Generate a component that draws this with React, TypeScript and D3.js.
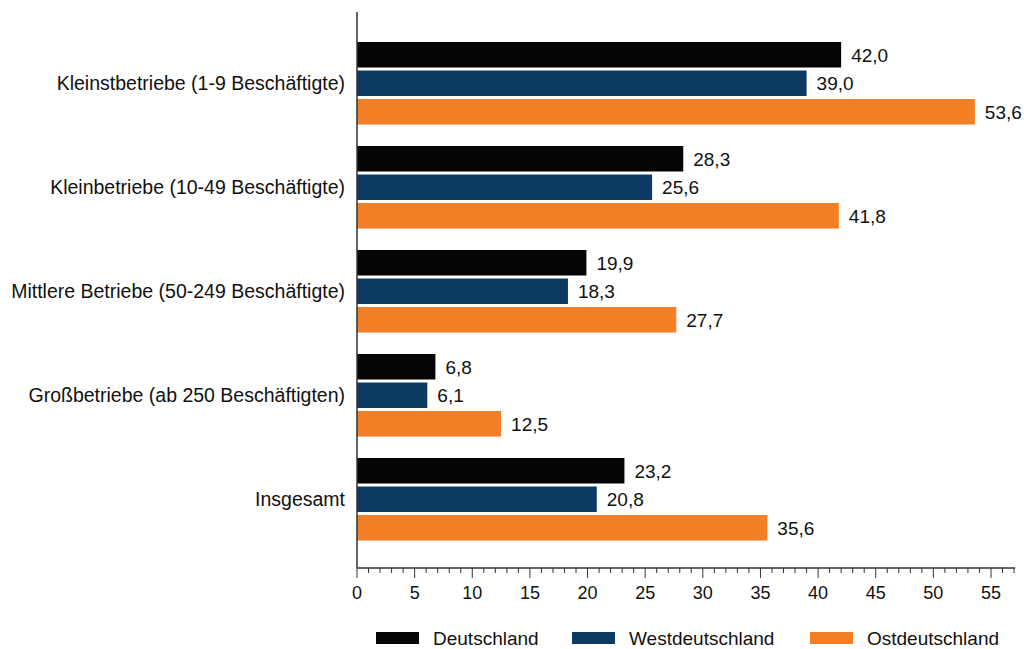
import React from "react";
import * as d3 from "d3";

const categories = [
  "Kleinstbetriebe (1-9 Beschäftigte)",
  "Kleinbetriebe (10-49 Beschäftigte)",
  "Mittlere Betriebe (50-249 Beschäftigte)",
  "Großbetriebe (ab 250 Beschäftigten)",
  "Insgesamt",
];
const seriesNames = ["Deutschland", "Westdeutschland", "Ostdeutschland"];
const deutschland = [42.0, 28.3, 19.9, 6.8, 23.2];
const west = [39.0, 25.6, 18.3, 6.1, 20.8];
const ost = [53.6, 41.8, 27.7, 12.5, 35.6];
const xTicks = [0, 5, 10, 15, 20, 25, 30, 35, 40, 45, 50, 55];
const colors = ["#050505", "#0c3a63", "#f47f24"];

export default function App() {
  const W = 1024, H = 649;
  const left = 357, axisY = 568, top = 12;
  const x = d3.scaleLinear().domain([0, 55]).range([left, 991]);
  const xEnd = x(57.1);
  const y0 = d3.scaleBand().domain(categories).range([42, 42 + 104 * 5]);
  const series = [deutschland, west, ost];
  const bh = 25.5, step = 28.5;
  const minor = d3.range(0, 58, 1);
  const font = "'Liberation Sans', Arial, sans-serif";
  const fmt = (v: number) => v.toFixed(1).replace(".", ",");
  const legendX = [376, 572, 810];
  return (
    <svg width={W} height={H} style={{ position: "absolute", left: 0, top: 0, background: "#fff" }} fontFamily={font}>
      {categories.map((c, i) => {
        const g = y0(c)!;
        return (
          <g key={c}>
            {series.map((s, j) => {
              const yy = g + j * step;
              return (
                <g key={j}>
                  <rect x={x(0)} y={yy} width={x(s[i]) - x(0)} height={bh} fill={colors[j]} />
                  <text x={x(s[i]) + 10} y={yy + bh / 2} dy="0.36em" fontSize={19} fill="#111">{fmt(s[i])}</text>
                </g>
              );
            })}
            <text x={345} y={g + step + bh / 2} dy="0.36em" textAnchor="end" fontSize={19.5} fill="#111">{c}</text>
          </g>
        );
      })}
      <line x1={left} x2={left} y1={top} y2={axisY} stroke="#333" strokeWidth={1.5} />
      <line x1={left} x2={xEnd} y1={axisY} y2={axisY} stroke="#333" strokeWidth={1.5} />
      {minor.map((m) => (
        <line key={m} x1={x(m)} x2={x(m)} y1={axisY} y2={axisY + (m % 5 === 0 ? 10 : 5)} stroke="#333" strokeWidth={1} />
      ))}
      {xTicks.map((t) => (
        <text key={t} x={x(t)} y={593} dy="0.36em" textAnchor="middle" fontSize={18} fill="#111">{t}</text>
      ))}
      {seriesNames.map((n, j) => (
        <g key={n}>
          <rect x={legendX[j]} y={632} width={43} height={12} fill={colors[j]} />
          <text x={legendX[j] + 57} y={638} dy="0.36em" fontSize={19} fill="#111">{n}</text>
        </g>
      ))}
    </svg>
  );
}
